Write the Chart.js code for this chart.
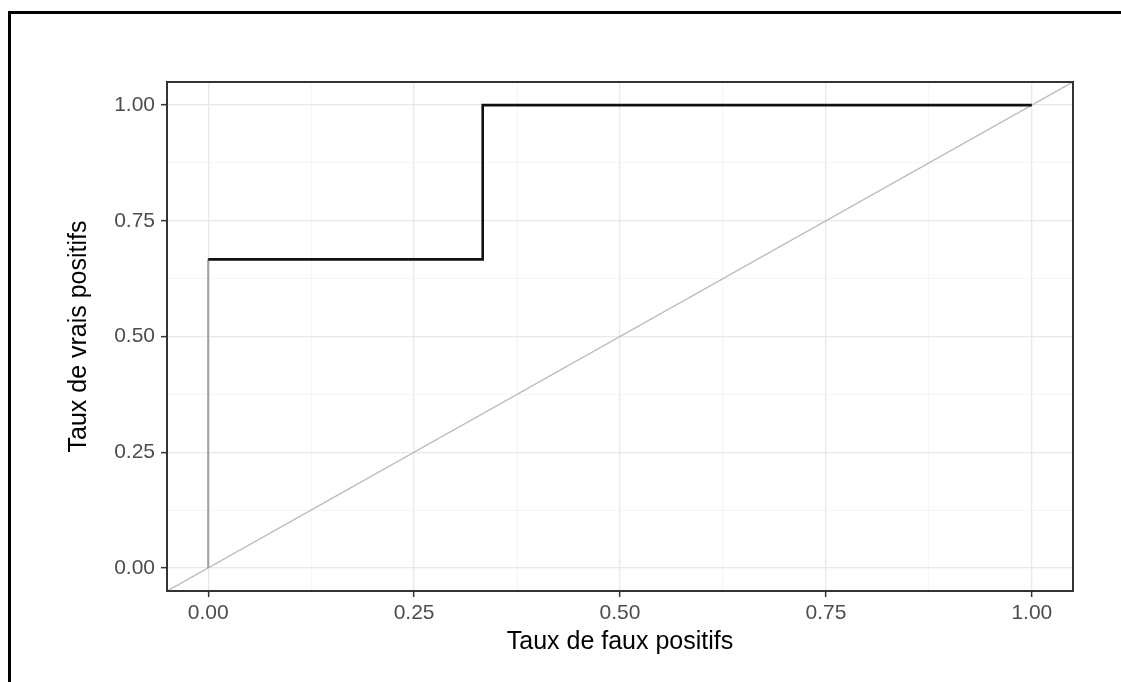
<!DOCTYPE html>
<html>
<head>
<meta charset="utf-8">
<script src="https://cdn.jsdelivr.net/npm/chart.js@4.4.1/dist/chart.umd.min.js"></script>
<style>
  html, body { margin: 0; padding: 0; background: #fff; }
  #wrap { position: relative; width: 1121px; height: 682px; overflow: hidden; }
  #frame { position: absolute; left: 8px; top: 11px; width: 2000px; height: 2000px;
           border-left: 3px solid #000; border-top: 3px solid #000; pointer-events: none; }
  canvas { position: absolute; left: 0; top: 0; }
</style>
</head>
<body>
<div id="wrap">
  <canvas id="c" width="1121" height="682"></canvas>
  <div id="frame"></div>
</div>
<script>
// ROC curve values
const fpr = [0, 0, 0.3333, 0.3333, 1];
const tpr = [0, 0.6667, 0.6667, 1, 1];
// reference diagonal (spans the whole panel)
const diagX = [-0.05, 1.05];
const diagY = [-0.05, 1.05];
// axis ticks
const majorTicks = [0, 0.25, 0.5, 0.75, 1];
const majorLabels = ['0.00', '0.25', '0.50', '0.75', '1.00'];
const minorTicks = [0.125, 0.375, 0.625, 0.875];
const axisMin = -0.05, axisMax = 1.05;
const xTitle = 'Taux de faux positifs';
const yTitle = 'Taux de vrais positifs';

const isMajor = v => majorTicks.some(m => Math.abs(m - v) < 1e-9);
const labelFor = v => {
  const i = majorTicks.findIndex(m => Math.abs(m - v) < 1e-9);
  return i >= 0 ? majorLabels[i] : '';
};

function scaleOpts(axis) {
  return {
    type: 'linear',
    min: axisMin,
    max: axisMax,
    afterBuildTicks: s => {
      s.ticks = [...majorTicks, ...minorTicks].sort((a, b) => a - b).map(v => ({ value: v }));
    },
    afterFit: s => {
      if (axis === 'x') s.height = 91; else s.width = 167;
    },
    border: { display: false },
    grid: {
      color: c => (c.tick && isMajor(c.tick.value)) ? '#e8e8e8' : '#f2f2f2',
      lineWidth: c => (c.tick && isMajor(c.tick.value)) ? 1.3 : 0.8,
      tickColor: c => (c.tick && isMajor(c.tick.value)) ? '#333333' : 'rgba(0,0,0,0)',
      tickLength: 6,
      tickWidth: 1.5,
      drawTicks: true
    },
    ticks: {
      autoSkip: false,
      maxRotation: 0,
      minRotation: 0,
      padding: axis === 'x' ? 4 : 6,
      color: '#4d4d4d',
      font: { family: 'Liberation Sans, Arial, sans-serif', size: 21 },
      callback: v => labelFor(v)
    },
    title: {
      display: true,
      text: axis === 'x' ? xTitle : yTitle,
      color: '#000',
      font: { family: 'Liberation Sans, Arial, sans-serif', size: 25 },
      padding: axis === 'x' ? { top: 0, bottom: 25 } : { top: 64, bottom: 0 }
    }
  };
}

const panelBorder = {
  id: 'panelBorder',
  afterDraw(chart) {
    const { ctx, chartArea: a } = chart;
    ctx.save();
    ctx.strokeStyle = '#333333';
    ctx.lineWidth = 2;
    ctx.strokeRect(a.left, a.top, a.right - a.left, a.bottom - a.top);
    ctx.restore();
  }
};

new Chart(document.getElementById('c'), {
  type: 'scatter',
  data: {
    datasets: [
      {
        label: 'diag',
        data: diagX.map((x, i) => ({ x, y: diagY[i] })),
        showLine: true,
        borderColor: '#bdbdbd',
        borderWidth: 1.5,
        pointRadius: 0,
        order: 2
      },
      {
        label: 'ROC',
        data: fpr.map((x, i) => ({ x, y: tpr[i] })),
        showLine: true,
        borderColor: '#000',
        borderWidth: 2.6,
        borderJoinStyle: 'miter',
        pointRadius: 0,
        tension: 0,
        order: 1,
        segment: {
          borderColor: c => c.p0DataIndex === 0 ? '#9e9e9e' : '#111111',
          borderWidth: c => c.p0DataIndex === 0 ? 2 : 2.6
        }
      }
    ]
  },
  options: {
    responsive: false,
    animation: false,
    devicePixelRatio: 1,
    layout: { padding: { top: 82, right: 48, left: 0, bottom: 0 } },
    plugins: { legend: { display: false }, tooltip: { enabled: false } },
    scales: { x: scaleOpts('x'), y: scaleOpts('y') }
  },
  plugins: [panelBorder]
});
</script>
</body>
</html>
